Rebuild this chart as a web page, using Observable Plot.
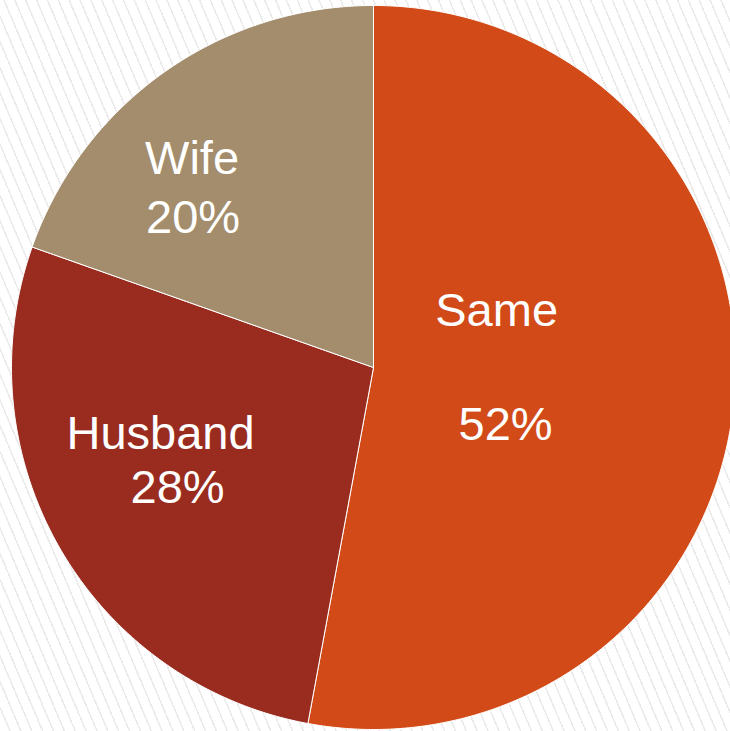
<!DOCTYPE html>
<html>
<head>
<meta charset="utf-8">
<script src="https://cdn.jsdelivr.net/npm/d3@7"></script>
<script src="https://cdn.jsdelivr.net/npm/@observablehq/plot@0.6"></script>
<style>
  html, body { margin: 0; padding: 0; }
  body {
    width: 730px; height: 731px; overflow: hidden;
    background: repeating-linear-gradient(67deg, #ffffff 0px, #ffffff 8.5px, #eaeaea 8.5px, #eaeaea 10px);
  }
  #chart svg { display: block; background: transparent; }
</style>
</head>
<body>
<div id="chart"></div>
<script>
// Data
const categories = ["Same", "Husband", "Wife"];
const shares = [52.9, 27.5, 19.6];
const pctLabels = ["52%", "28%", "20%"];
const colors = ["#d24a18", "#992c1f", "#a38d6c"];

// Layout (pixels / fractions, not data)
const W = 730, H = 731, CX = 373, CY = 367, R = 362;
const labelLayout = {
  "Same":    {r: 0.355, shift: 1.5,   nameDx: -4.5, nameDy: -57, pctDx: 4.5, pctDy: 57},
  "Husband": {r: 0.641, shift: 2.1,   nameDx: -8,   nameDy: -27, pctDx: 9,   pctDy: 27},
  "Wife":    {r: 0.674, shift: -12.6, nameDx: -0.5, nameDy: -29.5, pctDx: 0.5, pctDy: 29.5}
};

const total = d3.sum(shares);
const slices = [];
let acc = 0;
categories.forEach((c, i) => {
  const a0 = acc / total * 2 * Math.PI;
  acc += shares[i];
  const a1 = acc / total * 2 * Math.PI;
  slices.push({cat: c, a0, a1, pct: pctLabels[i]});
});

// polygon points (unit circle coords, angle clockwise from top)
const pts = [];
slices.forEach(s => {
  pts.push({cat: s.cat, x: 0, y: 0});
  const n = Math.max(4, Math.ceil((s.a1 - s.a0) / (2 * Math.PI) * 720));
  for (let k = 0; k <= n; k++) {
    const a = s.a0 + (s.a1 - s.a0) * k / n;
    pts.push({cat: s.cat, x: Math.sin(a), y: Math.cos(a)});
  }
  pts.push({cat: s.cat, x: 0, y: 0});
});

const labels = slices.map(s => {
  const L = labelLayout[s.cat];
  const a = (s.a0 + s.a1) / 2 + L.shift * Math.PI / 180;
  return {cat: s.cat, pct: s.pct, x: L.r * Math.sin(a), y: L.r * Math.cos(a), ...L};
});

const xDomain = [(0 - CX) / R, (W - CX) / R];
const yDomain = [(CY - H) / R, (CY - 0) / R];

const textBase = {
  fill: "white",
  fontSize: 47,
  fontFamily: "'Liberation Sans', Arial, sans-serif",
  textAnchor: "middle",
  lineAnchor: "bottom"
};

const marks = [
  Plot.line(pts, {x: "x", y: "y", z: "cat", fill: "cat", stroke: "white", strokeWidth: 1, curve: "linear"})
];
labels.forEach(l => {
  marks.push(Plot.text([l], {x: "x", y: "y", text: "cat", dx: l.nameDx, dy: l.nameDy, ...textBase}));
  marks.push(Plot.text([l], {x: "x", y: "y", text: "pct", dx: l.pctDx, dy: l.pctDy, ...textBase}));
});

const chart = Plot.plot({
  width: W,
  height: H,
  margin: 0,
  style: {background: "transparent"},
  x: {domain: xDomain, axis: null},
  y: {domain: yDomain, axis: null},
  color: {domain: categories, range: colors},
  marks
});
document.getElementById("chart").appendChild(chart);
</script>
</body>
</html>
